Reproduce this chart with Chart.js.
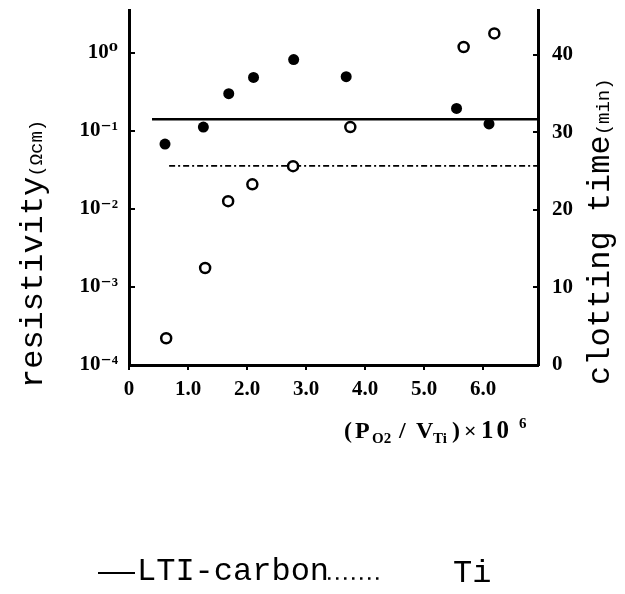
<!DOCTYPE html>
<html>
<head>
<meta charset="utf-8">
<script src="https://cdn.jsdelivr.net/npm/chart.js@4.4.1/dist/chart.umd.min.js"></script>
<style>
  html, body { margin: 0; padding: 0; background: #fff; }
  #wrap { width: 625px; height: 594px; position: relative; }
</style>
</head>
<body>
<div id="wrap"><canvas id="c" width="625" height="594"></canvas></div>
<script>
// Oxygen partial pressure / Ti deposition rate (x 10^6) for each film
const resistivityX = [0.63, 1.29, 1.68, 2.09, 2.78, 3.75, 5.67, 6.19];
// Film resistivity (ohm cm), open circles, left log axis
const resistivity = [2.2e-4, 1.75e-3, 1.26e-2, 2.07e-2, 3.54e-2, 0.112, 1.19, 1.78];
const clottingX = [0.61, 1.26, 1.69, 2.11, 2.79, 3.68, 5.55, 6.10];
// Blood clotting time (min), filled circles, right axis
const clottingTime = [28.5, 30.7, 35.0, 37.1, 39.4, 37.2, 33.1, 31.1];
// Reference clotting times for the comparison materials
const referenceNames = ['LTI-carbon', 'Ti'];
const referenceTimes = [31.7, 25.7];
const referenceFrom = [0.39, 0.68];

const xTicks = [0, 1, 2, 3, 4, 5, 6];
const xTickLabels = ['0', '1.0', '2.0', '3.0', '4.0', '5.0', '6.0'];
const resTicks = [1e-4, 1e-3, 1e-2, 1e-1, 1];
const resTickLabels = ['10\u207B\u2074', '10\u207B\u00B3', '10\u207B\u00B2', '10\u207B\u00B9', '10\u2070'];
const timeTicks = [0, 10, 20, 30, 40];
const timeTickLabels = ['0', '10', '20', '30', '40'];

const X_MAX = 6.93;
const RES_MAX = 3.55;
const TIME_MAX = 45.8;

const SERIF = "'Liberation Serif', 'DejaVu Serif', serif";
const MONO = "'Liberation Mono', 'DejaVu Sans Mono', monospace";

function pairs(xs, ys) { return xs.map((x, i) => ({ x: x, y: ys[i] })); }

const referenceStyles = [
  { borderWidth: 2.5, borderDash: [] },
  { borderWidth: 1.8, borderDash: [6, 3, 2, 3] }
];

const datasets = [
  {
    label: 'resistivity',
    data: pairs(resistivityX, resistivity),
    yAxisID: 'yRes',
    showLine: false,
    pointRadius: 5,
    pointBorderWidth: 2.5,
    pointBackgroundColor: '#fff',
    pointBorderColor: '#000'
  },
  {
    label: 'clotting time',
    data: pairs(clottingX, clottingTime),
    yAxisID: 'yClot',
    showLine: false,
    pointRadius: 5.5,
    pointBorderWidth: 0,
    pointBackgroundColor: '#000',
    pointBorderColor: '#000'
  }
].concat(referenceNames.map((name, i) => ({
  label: name,
  data: [{ x: referenceFrom[i], y: referenceTimes[i] }, { x: X_MAX, y: referenceTimes[i] }],
  yAxisID: 'yClot',
  showLine: true,
  pointRadius: 0,
  borderColor: '#000',
  borderWidth: referenceStyles[i].borderWidth,
  borderDash: referenceStyles[i].borderDash,
  fill: false
})));

function drawVertical(ctx, x, yStart, parts) {
  ctx.save();
  ctx.translate(x, yStart);
  ctx.rotate(-Math.PI / 2);
  ctx.textBaseline = 'alphabetic';
  ctx.textAlign = 'left';
  let pos = 0;
  for (const [text, size] of parts) {
    ctx.font = size + 'px ' + MONO;
    ctx.fillText(text, pos, 0);
    pos += ctx.measureText(text).width;
  }
  ctx.restore();
}

const figureText = {
  id: 'figureText',
  afterDraw(chart) {
    const ctx = chart.ctx;
    ctx.save();
    ctx.fillStyle = '#000';
    ctx.strokeStyle = '#000';

    // axis titles, both read bottom to top
    drawVertical(ctx, 42, 388, [['resistivity', 32], ['(\u03A9cm)', 19]]);
    drawVertical(ctx, 609, 385, [['clotting time', 32], ['(min)', 19]]);

    // x axis title: (P_O2 / V_Ti) x 10^6
    const base = 438;
    const pieces = [
      ['(', 344, 0, 24], ['P', 355, 0, 24], ['O2', 372, 5, 15], ['/', 399, 0, 24],
      ['V', 416, 0, 24], ['Ti', 433, 5, 15], [')', 452, 0, 24], ['\u00D7', 464, 0, 22],
      ['10', 481, 0, 25], ['6', 519, -10, 15]
    ];
    ctx.textBaseline = 'alphabetic';
    ctx.textAlign = 'left';
    for (const [t, x, dy, s] of pieces) {
      ctx.font = 'bold ' + s + 'px ' + SERIF;
      ctx.letterSpacing = (t === '10') ? '3px' : '0px';
      ctx.fillText(t, x, base + dy);
    }
    ctx.letterSpacing = '0px';

    // legend for the two reference lines
    const lti = chart.data.datasets[2];
    const ti = chart.data.datasets[3];
    ctx.lineWidth = 2;
    ctx.setLineDash([]);
    ctx.beginPath();
    ctx.moveTo(98, 573);
    ctx.lineTo(135, 573);
    ctx.stroke();
    ctx.font = '32px ' + MONO;
    ctx.fillText(lti.label, 137, 580);
    ctx.lineWidth = 2.5;
    ctx.setLineDash([2.5, 5.5]);
    ctx.beginPath();
    ctx.moveTo(328, 578.5);
    ctx.lineTo(384, 578.5);
    ctx.stroke();
    ctx.setLineDash([]);
    ctx.fillText(ti.label, 453, 582);
    ctx.restore();
  }
};

const tickFont = { family: SERIF, size: 21, weight: 'bold' };

function clearPadding(s) {
  s.paddingTop = 0; s.paddingBottom = 0; s.paddingLeft = 0; s.paddingRight = 0;
}

new Chart(document.getElementById('c'), {
  type: 'scatter',
  data: { datasets: datasets },
  options: {
    responsive: false,
    devicePixelRatio: 1,
    animation: false,
    layout: { padding: { top: 10, left: 0, right: 0, bottom: 0 } },
    plugins: { legend: { display: false }, tooltip: { enabled: false } },
    scales: {
      x: {
        type: 'linear',
        position: 'bottom',
        min: 0,
        max: X_MAX,
        afterBuildTicks: s => { s.ticks = xTicks.map(v => ({ value: v })); },
        afterFit: s => { s.height = 229; clearPadding(s); },
        grid: { drawOnChartArea: false, drawTicks: true, tickLength: 5, color: '#000', lineWidth: 2 },
        border: { display: true, color: '#000', width: 3 },
        ticks: {
          color: '#000', font: tickFont, padding: 7, maxRotation: 0, autoSkip: false,
          callback: (v, i) => xTickLabels[i]
        }
      },
      yRes: {
        type: 'logarithmic',
        position: 'left',
        min: 1e-4,
        max: RES_MAX,
        afterBuildTicks: s => { s.ticks = resTicks.map(v => ({ value: v })); },
        afterFit: s => { s.width = 129; clearPadding(s); },
        grid: { drawOnChartArea: false, drawTicks: true, tickLength: -6, color: '#000', lineWidth: 2 },
        border: { display: true, color: '#000', width: 3 },
        ticks: {
          color: '#000', font: tickFont, padding: 17, autoSkip: false,
          callback: (v, i) => resTickLabels[i]
        }
      },
      yClot: {
        type: 'linear',
        position: 'right',
        min: 0,
        max: TIME_MAX,
        afterBuildTicks: s => { s.ticks = timeTicks.map(v => ({ value: v })); },
        afterFit: s => { s.width = 87; clearPadding(s); },
        grid: { drawOnChartArea: false, drawTicks: true, tickLength: -5, color: '#000', lineWidth: 2 },
        border: { display: true, color: '#000', width: 3 },
        ticks: {
          color: '#000', font: tickFont, padding: 19, autoSkip: false,
          callback: (v, i) => timeTickLabels[i]
        }
      }
    }
  },
  plugins: [figureText]
});
</script>
</body>
</html>
